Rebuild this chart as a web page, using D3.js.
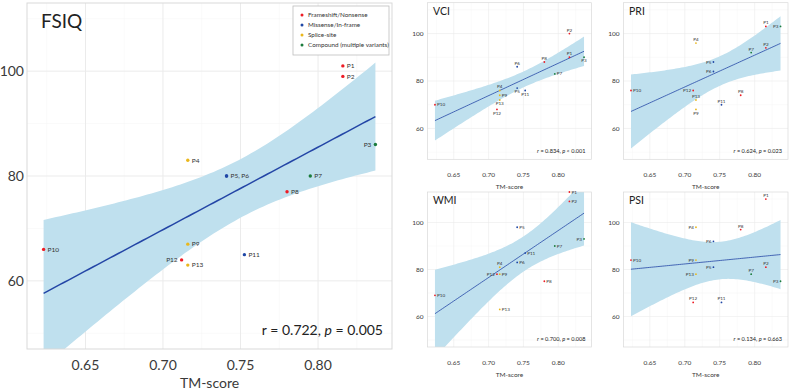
<!DOCTYPE html>
<html>
<head>
<meta charset="utf-8">
<script src="https://cdn.jsdelivr.net/npm/d3@7"></script>
<style>
  body { margin: 0; background: #fff; }
  svg { display: block; font-family: Lato, "Open Sans", sans-serif; }
</style>
</head>
<body>
<div id="chart"></div>
<script>
// ---- data ----
const patients = ["P1", "P2", "P3", "P4", "P5", "P6", "P7", "P8", "P9", "P10", "P11", "P12", "P13"];
const tmScore = [0.816, 0.816, 0.837, 0.716, 0.741, 0.741, 0.795, 0.780, 0.716, 0.623, 0.7525, 0.712, 0.716];
const variantTypes = ["Frameshift/Nonsense", "Missense/In-frame", "Splice-site", "Compound (multiple variants)"];
const variant = [0, 0, 3, 2, 1, 1, 3, 0, 2, 0, 1, 0, 2];

const fsiq = [101, 99, 86, 83, 80, 80, 80, 77, 67, 66, 65, 64, 63];
const vci = [90, 100, 90, 76, 77, 86, 83, 88, 74, 70, 76, 68, 72];
const pri = [103, 94, 103, 96, 88, 84, 92, 74, 68, 76, 70, 76, 72];
const wmi = [124, 109, 93, 81, 98, 83, 90, 75, 78, 69, 87, 78, 63];
const psi = [110, 81, 75, 98, 81, 92, 78, 97, 84, 84, 66, 66, 78];

const statR = ["0.722", "0.834", "0.624", "0.700", "0.134"];
const statP = ["= 0.005", "< 0.001", "= 0.023", "= 0.008", "= 0.663"];

const xTicks = [0.65, 0.70, 0.75, 0.80];
const xMinor = [0.625, 0.675, 0.725, 0.775, 0.825];
const yTicks = [60, 80, 100];
const yMinor = [50, 70, 90, 110];
const yLimits = [50, 110];

// ---- style ----
const colors = ["#ee1c25", "#1f47a6", "#eab71c", "#1a7b3c"];
const width = 791, height = 391;
const tCrit = 2.201; // t(0.975, df = 11)

// label side for each point, per panel
const sides = {
  FSIQ: "r r l r r r r r r r r l r".split(" "),
  VCI:  "t t b t b t r t r r b b b".split(" "),
  PRI:  "t t l t l l t t b r t l t".split(" "),
  WMI:  "r r l t r r r r r r r l r".split(" "),
  PSI:  "t t l l l l t t l r t t l".split(" ")
};

const panels = [
  { title: "FSIQ", values: fsiq, stat: 0, rect: [27, 392, 3, 349], big: true },
  { title: "VCI", values: vci, stat: 1, rect: [427.5, 591.5, 2.7, 159.3] },
  { title: "PRI", values: pri, stat: 2, rect: [623.5, 788, 2.7, 159.3] },
  { title: "WMI", values: wmi, stat: 3, rect: [427.5, 591.5, 192, 347] },
  { title: "PSI", values: psi, stat: 4, rect: [623.5, 788, 192, 347] }
];

const svg = d3.select("#chart").append("svg")
  .attr("width", width)
  .attr("height", height)
  .attr("viewBox", [0, 0, width, height]);

function fit(xs, ys) {
  const n = xs.length, mx = d3.mean(xs), my = d3.mean(ys);
  const sxx = d3.sum(xs, x => (x - mx) ** 2);
  const sxy = d3.sum(xs, (x, i) => (x - mx) * (ys[i] - my));
  const b = sxy / sxx, a = my - b * mx;
  const s = Math.sqrt(d3.sum(xs, (x, i) => (ys[i] - a - b * x) ** 2) / (n - 2));
  return { n, mx, sxx, a, b, s };
}

function expand(ext, f) {
  const d = (ext[1] - ext[0]) * f;
  return [ext[0] - d, ext[1] + d];
}

panels.forEach(p => {
  const [x0, x1, y0, y1] = p.rect;
  const big = !!p.big;
  const fs = big
    ? { tick: 14, axis: 14, title: 19, label: 6.5, stat: 14, r: 1.7 }
    : { tick: 6.5, axis: 6.5, title: 10.5, label: 4.6, stat: 5.6, r: 0.9 };

  const x = d3.scaleLinear().domain(expand(d3.extent(tmScore), 0.05)).range([x0, x1]);
  const y = d3.scaleLinear().domain(expand(yLimits, 0.05)).range([y1, y0]);
  const yPt = y.copy().clamp(true);

  const g = svg.append("g");
  const clipId = "clip-" + p.title;
  g.append("clipPath").attr("id", clipId)
    .append("rect").attr("x", x0).attr("y", y0).attr("width", x1 - x0).attr("height", y1 - y0);

  // grid
  g.append("rect").attr("x", x0).attr("y", y0).attr("width", x1 - x0).attr("height", y1 - y0)
    .attr("fill", "#fff");
  g.append("g").selectAll("line").data(xMinor).join("line")
    .attr("x1", x).attr("x2", x).attr("y1", y0).attr("y2", y1)
    .attr("stroke", "#f4f4f4").attr("stroke-width", 0.5);
  g.append("g").selectAll("line").data(yMinor).join("line")
    .attr("y1", y).attr("y2", y).attr("x1", x0).attr("x2", x1)
    .attr("stroke", "#f4f4f4").attr("stroke-width", 0.5);
  g.append("g").selectAll("line").data(xTicks).join("line")
    .attr("x1", x).attr("x2", x).attr("y1", y0).attr("y2", y1)
    .attr("stroke", "#ebebeb").attr("stroke-width", big ? 1 : 0.6);
  g.append("g").selectAll("line").data(yTicks).join("line")
    .attr("y1", y).attr("y2", y).attr("x1", x0).attr("x2", x1)
    .attr("stroke", "#ebebeb").attr("stroke-width", big ? 1 : 0.6);

  // regression + confidence band
  const m = fit(tmScore, p.values);
  const grid = d3.range(0, 81).map(i => {
    const xv = d3.min(tmScore) + (d3.max(tmScore) - d3.min(tmScore)) * i / 80;
    const yh = m.a + m.b * xv;
    const se = m.s * Math.sqrt(1 / m.n + (xv - m.mx) ** 2 / m.sxx);
    return { x: xv, y: yh, lo: yh - tCrit * se, hi: yh + tCrit * se };
  });
  const fitG = g.append("g").attr("clip-path", `url(#${clipId})`);
  fitG.append("path").datum(grid)
    .attr("fill", "#bfe0ee")
    .attr("d", d3.area().x(d => x(d.x)).y0(d => y(d.lo)).y1(d => y(d.hi)));
  fitG.append("path").datum(grid)
    .attr("fill", "none").attr("stroke", "#2446a6").attr("stroke-width", big ? 1.5 : 0.8)
    .attr("d", d3.line().x(d => x(d.x)).y(d => y(d.y)));

  // border
  g.append("rect").attr("x", x0).attr("y", y0).attr("width", x1 - x0).attr("height", y1 - y0)
    .attr("fill", "none").attr("stroke", "#d9d9d9").attr("stroke-width", big ? 1 : 0.7);

  // axes labels
  g.append("g").selectAll("text").data(xTicks).join("text")
    .attr("x", x).attr("y", y1 + (big ? 21 : 17.5))
    .attr("text-anchor", "middle").attr("font-size", fs.tick).attr("fill", "#3a3a3a")
    .text(d3.format(".2f"));
  g.append("g").selectAll("text").data(yTicks).join("text")
    .attr("x", x0 - (big ? 3 : 4)).attr("y", y).attr("dy", "0.35em")
    .attr("text-anchor", "end").attr("font-size", fs.tick).attr("fill", "#3a3a3a")
    .text(d => d);
  g.append("text")
    .attr("x", (x0 + x1) / 2).attr("y", y1 + (big ? 39 : 30))
    .attr("text-anchor", "middle").attr("font-size", fs.axis).attr("fill", "#3a3a3a")
    .text("TM-score");

  // title
  g.append("text")
    .attr("x", x0 + (big ? 14 : 5.5)).attr("y", y0 + (big ? 25 : 12))
    .attr("font-size", fs.title).attr("fill", "#222")
    .text(p.title);

  // stat text
  const st = g.append("text")
    .attr("x", x1 - (big ? 9 : 6)).attr("y", y1 - (big ? 14 : 6))
    .attr("text-anchor", "end").attr("font-size", fs.stat).attr("fill", "#222");
  st.append("tspan").attr("font-style", big ? "normal" : "italic").text("r");
  st.append("tspan").text(` = ${statR[p.stat]}, `);
  st.append("tspan").attr("font-style", "italic").text("p");
  st.append("tspan").text(` ${statP[p.stat]}`);

  // points
  const pts = patients.map((name, i) => ({ name, i, x: tmScore[i], v: p.values[i], side: sides[p.title][i] }));
  g.append("g").selectAll("circle").data(pts).join("circle")
    .attr("cx", d => x(d.x)).attr("cy", d => yPt(d.v))
    .attr("r", fs.r).attr("fill", d => colors[variant[d.i]]);

  // labels (merge identical positions on the big panel)
  let labels = pts;
  if (big) {
    const groups = d3.groups(pts, d => d.x + "|" + d.v);
    labels = groups.map(([, arr]) => Object.assign({}, arr[0], { name: arr.map(d => d.name).join(", ") }));
  }
  const off = big ? 4 : 2;
  g.append("g").selectAll("text").data(labels).join("text")
    .attr("x", d => x(d.x) + (d.side === "r" ? off : d.side === "l" ? -off : 0))
    .attr("y", d => yPt(d.v) + (d.side === "t" ? -off : d.side === "b" ? off + fs.label * 0.7 : fs.label * 0.35))
    .attr("text-anchor", d => d.side === "r" ? "start" : d.side === "l" ? "end" : "middle")
    .attr("font-size", fs.label).attr("fill", "#333")
    .text(d => d.name);
});

// legend
const legend = svg.append("g").attr("transform", "translate(293, 6)");
legend.append("rect").attr("width", 96).attr("height", 49)
  .attr("fill", "#fff").attr("stroke", "#bdbdbd").attr("stroke-width", 0.8);
const items = legend.selectAll("g").data(variantTypes).join("g")
  .attr("transform", (d, i) => `translate(9, ${9 + i * 10})`);
items.append("circle").attr("r", 1.5).attr("fill", (d, i) => colors[i]);
items.append("text").attr("x", 6).attr("dy", "0.35em")
  .attr("font-size", 6.3).attr("fill", "#333").text(d => d);
</script>
</body>
</html>
